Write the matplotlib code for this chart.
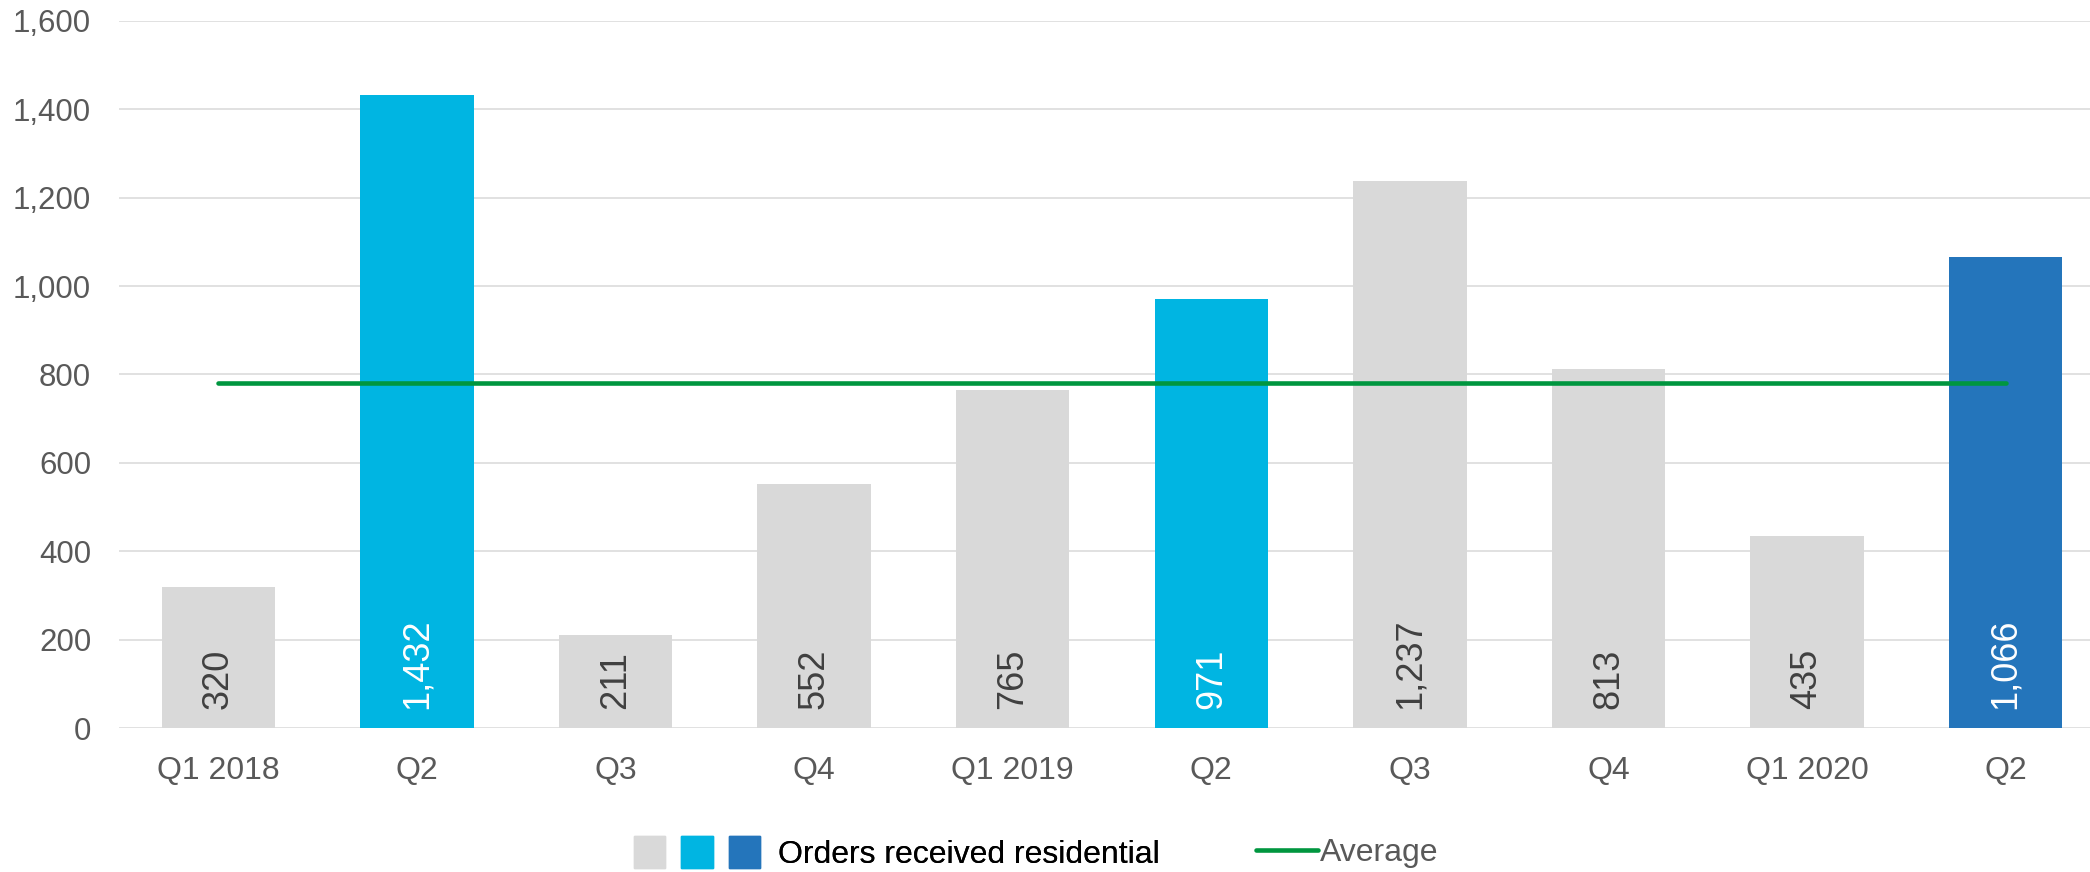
import matplotlib
matplotlib.use("Agg")
import matplotlib.pyplot as plt
from matplotlib.patches import Patch
from matplotlib.lines import Line2D
from matplotlib.legend_handler import HandlerTuple

plt.rcParams["font.family"] = ["Liberation Sans", "DejaVu Sans"]

# ── data ─────────────────────────────────────────────────────────────────────
quarters = ["Q1 2018", "Q2", "Q3", "Q4", "Q1 2019", "Q2", "Q3", "Q4", "Q1 2020", "Q2"]
orders   = [320, 1432, 211, 552, 765, 971, 1237, 813, 435, 1066]
kind     = ["base", "hi", "base", "base", "base", "hi", "base", "base", "base", "cur"]
average  = 780

GREY, CYAN, BLUE, GREEN = "#D9D9D9", "#00B5E2", "#2475BB", "#00963F"
TXT = "#595959"
FILL  = {"base": GREY, "hi": CYAN, "cur": BLUE}
LABEL = {"base": "#404040", "hi": "white", "cur": "white"}

fig = plt.figure(figsize=(20.9, 8.72), dpi=100)
ax = fig.add_axes([119 / 2090, 1 - 728 / 872, 1986 / 2090, 707 / 872])

x = list(range(len(orders)))
ax.bar(x, orders, width=0.57, color=[FILL[k] for k in kind], zorder=2)
ax.plot([x[0], x[-1]], [average, average], color=GREEN, lw=3.3,
        solid_capstyle="round", zorder=3)

for xi, v, k in zip(x, orders, kind):
    ax.annotate(f"{v:,}", (xi, 0), xytext=(0, 14), textcoords="offset points",
                rotation=90, ha="center", va="bottom", fontsize=26,
                color=LABEL[k], zorder=4)

ax.set_xlim(-0.5, 9.5)
ax.set_ylim(0, 1600)
ax.set_yticks(range(0, 1601, 200))
ax.set_yticklabels([f"{t:,}" for t in range(0, 1601, 200)])
ax.set_xticks(x)
ax.set_xticklabels(quarters)
ax.tick_params(axis="both", length=0, colors=TXT)
ax.tick_params(axis="y", pad=20, labelsize=22.5)
ax.tick_params(axis="x", pad=20, labelsize=23)
ax.yaxis.grid(True, color=GREY, lw=1.1, zorder=0)
ax.set_axisbelow(True)
for s in ax.spines.values():
    s.set_visible(False)

# ── legend: three-colour swatch + average line ──────────────────────────────
swatch = (Patch(color=GREY), Patch(color=CYAN), Patch(color=BLUE))
leg1 = fig.legend([swatch], ["Orders received residential"],
                  handler_map={tuple: HandlerTuple(ndivide=None, pad=0.5)},
                  loc="center left", bbox_to_anchor=(634 / 2090, 19 / 872),
                  frameon=False, fontsize=23, handlelength=3.95, handleheight=1.15,
                  handletextpad=0.55, borderpad=0, borderaxespad=0)
for t in leg1.get_texts():
    t.set_color("black")
fig.add_artist(leg1)

leg2 = fig.legend([Line2D([], [], color=GREEN, lw=3.3, solid_capstyle="round")],
                  ["Average"], loc="center left",
                  bbox_to_anchor=(1256 / 2090, 19 / 872), frameon=False,
                  fontsize=23, handlelength=1.95, handletextpad=0.05,
                  borderpad=0, borderaxespad=0)
for t in leg2.get_texts():
    t.set_color(TXT)

fig.savefig("out.png", dpi=100)
